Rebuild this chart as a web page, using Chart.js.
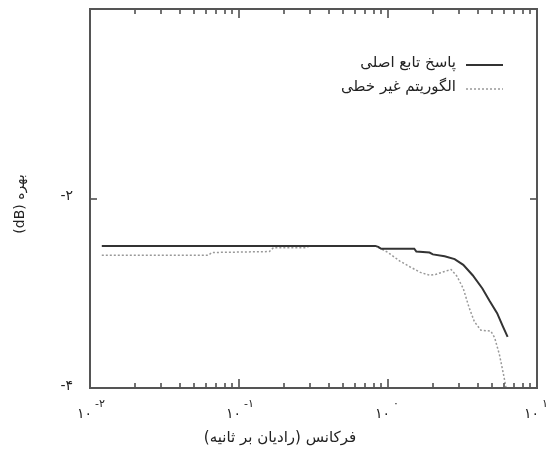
<!DOCTYPE html>
<html>
<head>
<meta charset="utf-8">
<script src="https://cdn.jsdelivr.net/npm/chart.js"></script>
<style>
  body { margin: 0; background: #fff; }
  #wrap { width: 547px; height: 456px; }
</style>
</head>
<body>
<div id="wrap"><canvas id="mycanvas" width="547" height="456"></canvas></div>
<script>
//############################## data ##################################//
var freqOrig = [0.012, 0.1, 0.5, 0.82, 0.86, 0.9, 1.0, 1.2, 1.5, 1.55, 1.9, 2.0, 2.4, 2.8, 3.2, 3.7, 4.3, 4.8, 5.4, 5.9, 6.35];
var gainOrig = [-2.50, -2.50, -2.50, -2.50, -2.51, -2.53, -2.53, -2.53, -2.53, -2.56, -2.57, -2.59, -2.61, -2.64, -2.70, -2.81, -2.95, -3.08, -3.21, -3.35, -3.46];

var freqNl = [0.012, 0.062, 0.066, 0.16, 0.17, 0.28, 0.3, 0.82, 0.9, 1.0, 1.2, 1.4, 1.65, 1.9, 2.1, 2.4, 2.65, 2.9, 3.2, 3.5, 3.8, 4.2, 4.9, 5.2, 5.6, 6.0, 6.2];
var gainNl = [-2.60, -2.60, -2.57, -2.56, -2.52, -2.52, -2.50, -2.50, -2.53, -2.57, -2.66, -2.72, -2.78, -2.81, -2.80, -2.77, -2.75, -2.82, -2.95, -3.15, -3.30, -3.39, -3.40, -3.47, -3.65, -3.88, -4.0];

var seriesLabels = ['پاسخ تابع اصلی', 'الگوریتم غیر خطی'];

var xDecades = [0.01, 0.1, 1, 10];
var xExpLabels = ['-۲', '-۱', '۰', '۱'];
var xBaseLabel = '۱۰';
var yTicks = [-4, -2, 0];
var yTickLabels = ['-۴', '-۲', ''];

var xTitle = '\u200Fفرکانس (رادیان بر ثانیه)\u200F';
var yTitle = '(dB) بهره';

function toPoints(xs, ys) {
  var pts = [];
  for (var i in xs) {
    pts.push({x: xs[i], y: ys[i]});
  }
  return pts;
}

//############################## frame, ticks, text ##################################//
var decoPlugin = {
  id: 'deco',
  afterDraw: function(chart) {
    var ctx = chart.ctx;
    var a = chart.chartArea;
    var xs = chart.scales.x;
    var ys = chart.scales.y;
    var font = '"DejaVu Sans", sans-serif';
    ctx.save();

    // ticks on x (inside, top and bottom)
    ctx.strokeStyle = '#444';
    ctx.lineWidth = 1.5;
    for (var d = 0; d < xDecades.length; d++) {
      for (var m = 1; m <= 9; m++) {
        if (d == xDecades.length - 1 && m > 1) break;
        var px = Math.round(xs.getPixelForValue(xDecades[d] * m));
        var len = (m == 1) ? 9 : 5;
        ctx.beginPath();
        ctx.moveTo(px, a.bottom); ctx.lineTo(px, a.bottom - len);
        ctx.moveTo(px, a.top); ctx.lineTo(px, a.top + len);
        ctx.stroke();
      }
    }
    // ticks on y
    for (var i in yTicks) {
      var py = Math.round(ys.getPixelForValue(yTicks[i]));
      ctx.beginPath();
      ctx.moveTo(a.left, py); ctx.lineTo(a.left + 7, py);
      ctx.moveTo(a.right, py); ctx.lineTo(a.right - 7, py);
      ctx.stroke();
    }

    // frame
    ctx.strokeStyle = '#555';
    ctx.lineWidth = 2;
    ctx.strokeRect(a.left, a.top, a.right - a.left, a.bottom - a.top);

    ctx.fillStyle = '#222';
    ctx.textBaseline = 'middle';

    // y tick labels
    ctx.font = '14px ' + font;
    ctx.textAlign = 'right';
    for (var i in yTicks) {
      var py = ys.getPixelForValue(yTicks[i]);
      ctx.fillText(yTickLabels[i], a.left - 17, py - 2);
    }

    // x tick labels 10^n
    for (var d in xDecades) {
      var px = xs.getPixelForValue(xDecades[d]);
      ctx.font = '14px ' + font;
      ctx.textAlign = 'right';
      ctx.fillText(xBaseLabel, px + 2, a.bottom + 26);
      ctx.font = '11px ' + font;
      ctx.textAlign = 'left';
      ctx.fillText(xExpLabels[d], px + 5, a.bottom + 16);
    }

    // axis titles
    ctx.font = '15px ' + font;
    ctx.textAlign = 'center';
    ctx.fillText(xTitle, 280, 438);
    ctx.save();
    ctx.translate(20, 204);
    ctx.rotate(-Math.PI / 2);
    ctx.font = '14px ' + font;
    ctx.fillText(yTitle, 0, 0);
    ctx.restore();

    // legend (text left of line sample)
    var rows = [65, 89];
    ctx.font = '15px ' + font;
    ctx.textAlign = 'right';
    for (var k = 0; k < chart.data.datasets.length; k++) {
      var ds = chart.data.datasets[k];
      ctx.fillStyle = '#222';
      ctx.fillText(ds.label, 456, rows[k] - 2);
      ctx.strokeStyle = ds.borderColor;
      ctx.lineWidth = ds.borderWidth;
      ctx.setLineDash(ds.borderDash || []);
      ctx.beginPath();
      ctx.moveTo(466, rows[k]); ctx.lineTo(503, rows[k]);
      ctx.stroke();
      ctx.setLineDash([]);
    }
    ctx.restore();
  }
};

//############################## chart ##################################//
var chartdata = {
  datasets: [
    {
      label: seriesLabels[0],
      data: toPoints(freqOrig, gainOrig),
      borderColor: '#333',
      borderWidth: 2,
      pointRadius: 0,
      fill: false,
      tension: 0
    },
    {
      label: seriesLabels[1],
      data: toPoints(freqNl, gainNl),
      borderColor: '#999',
      borderWidth: 1.5,
      borderDash: [2, 2],
      pointRadius: 0,
      fill: false,
      tension: 0
    }
  ]
};

var ctx = document.getElementById('mycanvas');
var lineGraph = new Chart(ctx, {
  type: 'line',
  data: chartdata,
  options: {
    responsive: false,
    animation: false,
    devicePixelRatio: 1,
    layout: { padding: { left: 90, right: 10, top: 9, bottom: 68 } },
    plugins: { legend: { display: false }, tooltip: { enabled: false } },
    scales: {
      x: { type: 'logarithmic', min: 0.01, max: 10, display: false },
      y: { type: 'linear', min: -4, max: 0, display: false }
    }
  },
  plugins: [decoPlugin]
});
</script>
</body>
</html>
